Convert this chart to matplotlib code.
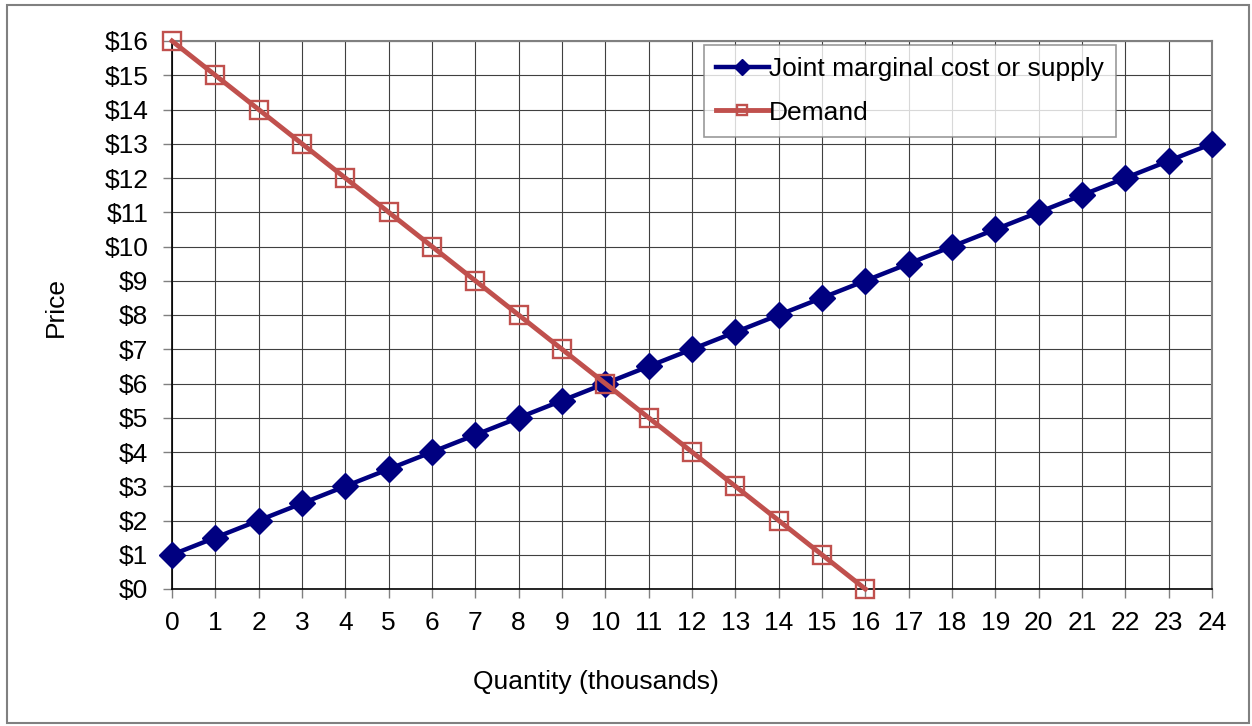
import matplotlib
matplotlib.use("Agg")
import matplotlib.pyplot as plt
from matplotlib.patches import Rectangle
from matplotlib.ticker import FuncFormatter

plt.rcParams['font.family'] = ['Liberation Sans', 'DejaVu Sans']

quantity = list(range(0, 25))
supply_price = [1, 1.5, 2, 2.5, 3, 3.5, 4, 4.5, 5, 5.5, 6, 6.5, 7, 7.5, 8, 8.5,
                9, 9.5, 10, 10.5, 11, 11.5, 12, 12.5, 13]
demand_qty = list(range(0, 17))
demand_price = [16, 15, 14, 13, 12, 11, 10, 9, 8, 7, 6, 5, 4, 3, 2, 1, 0]

fig = plt.figure(figsize=(12.52, 7.26), dpi=100)
ax = fig.add_axes([172 / 1252, 1 - 589 / 726, (1212 - 172) / 1252, (589 - 41) / 726])

navy = '#000080'
red = '#C0504D'

ax.plot(quantity, supply_price, color=navy, lw=3.2, marker='D', ms=13,
        mfc=navy, mec=navy, label='Joint marginal cost or supply', zorder=3, clip_on=False)
ax.plot(demand_qty, demand_price, color=red, lw=3.5, marker='s', ms=13,
        mfc='none', mec=red, mew=1.7, label='Demand', zorder=4, clip_on=False)

ax.set_xlim(0, 24)
ax.set_ylim(0, 16)
ax.set_xticks(range(0, 25))
ax.set_yticks(range(0, 17))
ax.yaxis.set_major_formatter(FuncFormatter(lambda v, p: f'${int(v)}'))
ax.tick_params(axis='both', labelsize=19, direction='out', length=6.5, width=1,
               color='#808080')
ax.tick_params(axis='x', pad=9)
ax.tick_params(axis='y', pad=10.5)
ax.grid(True, color='#404040', lw=0.8)
ax.set_axisbelow(True)

ax.spines['left'].set_color('black')
ax.spines['bottom'].set_color('black')
ax.spines['left'].set_linewidth(1.2)
ax.spines['bottom'].set_linewidth(1.2)
ax.spines['top'].set_color('#808080')
ax.spines['right'].set_color('#808080')
ax.spines['top'].set_linewidth(1.5)
ax.spines['right'].set_linewidth(1.5)

fig.text(56 / 1252, 1 - 307 / 726, 'Price', rotation=90, ha='center', va='center', fontsize=19)
fig.text(596 / 1252, 1 - 682 / 726, 'Quantity (thousands)', ha='center', va='center', fontsize=19)

leg = ax.legend(loc='upper left', bbox_to_anchor=(704 / 1252, 1 - 45 / 726),
                bbox_transform=fig.transFigure, fontsize=19, frameon=True, fancybox=False,
                handlelength=2.0, handletextpad=0.02, borderpad=0.45, labelspacing=0.75,
                borderaxespad=0, markerscale=0.6)
leg.get_frame().set_edgecolor('#808080')
leg.get_frame().set_linewidth(1.2)

fig.patches.append(Rectangle((7 / 1252, 3 / 726), 1242 / 1252, 718 / 726,
                             transform=fig.transFigure, fill=False,
                             edgecolor='#808080', lw=1.5))

fig.savefig('out.png', dpi=100)
